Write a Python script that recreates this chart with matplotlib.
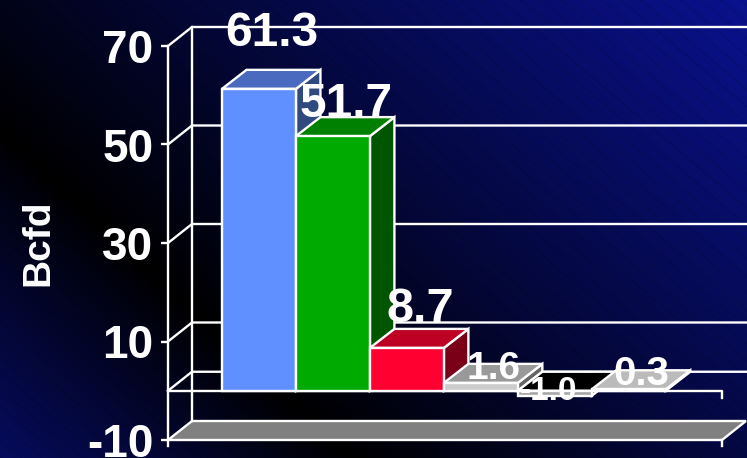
import numpy as np
import matplotlib
matplotlib.use("Agg")
from matplotlib import pyplot as plt

plt.rcParams['font.family'] = ['Liberation Sans', 'DejaVu Sans']
plt.rcParams['font.weight'] = 'bold'
plt.rcParams['axes.unicode_minus'] = False

values = [61.3, 51.7, 8.7, 1.6, -1.0, 0.3]
value_labels = ['61.3', '51.7', '8.7', '1.6', '-1.0', '0.3']
y_ticks = [-10, 10, 30, 50, 70]
y_label = 'Bcfd'

front_colors = ['#6090ff', '#00aa00', '#ff0030', '#cccccc', '#a8a8a8', '#cccccc']
top_colors = ['#4a6abf', '#008000', '#bf0025', '#999999', '#000000', '#bbbbbb']
side_colors = ['#304a80', '#005500', '#7a0018', '#666666', '#666666', '#808080']

# label placement, px from top of bar / pt size
label_dx = [13, 13, 13, 13, -6, 13]
label_dy = [43, 19, 26, 4, -9, 4]
label_size = [34.5, 34.5, 35, 28, 24, 29]

W, H = 747, 458
LW = 1.7
fig = plt.figure(figsize=(W / 100, H / 100), dpi=100)

# background: two sided diagonal gradient + faint hatching
bg = fig.add_axes([0, 0, 1, 1])
yy, xx = np.mgrid[0:H, 0:W]
d = (xx * 328 - yy * 350 + 350 * 130) / np.hypot(328, 350)
t = np.where(d > 0, d / 620, -d / 380)
t = np.clip(t, 0, 1) ** 0.95
stripes = 1 - 0.10 * (((xx - yy * 1.18) % 20) < 2.5)
img = np.zeros((H, W, 3))
img[..., 0] = 10 / 255 * t * stripes
img[..., 1] = 18 / 255 * t * stripes
img[..., 2] = 145 / 255 * t * stripes
bg.imshow(img, aspect='auto', interpolation='bilinear')
bg.axis('off')

ax = fig.add_axes([168 / W, (H - 440) / H, (722 - 168) / W, (440 - 46) / H])
ax.patch.set_alpha(0)
ax.set_xlim(-1.23, 6.26)
ax.set_ylim(-10, 70)
xl = ax.get_xlim()

# depth of the box, in data units
wall_dx = 24 / 74
wall_dy = 19 / 4.925
bar_dx = 24.5 / 74
bar_dy = 19 / 4.925

# floor
ax.fill([xl[0], xl[1], xl[1] + wall_dx, xl[0] + wall_dx], [-10, -10, -10 + wall_dy, -10 + wall_dy],
        facecolor='#808080', edgecolor='white', lw=LW, clip_on=False, zorder=1)

# walls / grid
for v in y_ticks[1:] + [0]:
    ax.plot([xl[0], xl[0] + wall_dx, xl[1] + wall_dx], [v, v + wall_dy, v + wall_dy],
            color='white', lw=LW, clip_on=False, zorder=2)
ax.plot([xl[0] + wall_dx] * 2, [-10 + wall_dy, 70 + wall_dy], color='white', lw=LW, clip_on=False, zorder=2)
ax.plot([xl[0], xl[1], xl[1]], [0, 0, -1.5], color='white', lw=LW, clip_on=False, zorder=3)
ax.plot([xl[1], xl[1]], [-10, -11.3], color='white', lw=LW, clip_on=False, zorder=3)
ax.plot([xl[0], xl[0]], [-11.3, 70], color='white', lw=LW, clip_on=False, zorder=3)

# bars
for i, v in enumerate(values):
    z = 10 + i
    base, top = min(v, 0), max(v, 0)
    l, r = i - 0.5, i + 0.5
    ax.fill([r, r + bar_dx, r + bar_dx, r], [base, base + bar_dy, top + bar_dy, top],
            facecolor=side_colors[i], edgecolor='white', lw=LW, clip_on=False, zorder=z)
    ax.fill([l, r, r + bar_dx, l + bar_dx], [top, top, top + bar_dy, top + bar_dy],
            facecolor=top_colors[i], edgecolor='white', lw=LW, clip_on=False, zorder=z)
    ax.bar(i, top - base, bottom=base, width=1, color=front_colors[i], edgecolor='white',
           lw=LW, clip_on=False, zorder=z)

for i, v in enumerate(values):
    ax.annotate(value_labels[i], (i, max(v, 0)), xytext=(label_dx[i] * 0.72, label_dy[i] * 0.72),
                textcoords='offset points', ha='center', va='baseline', color='white',
                fontsize=label_size[i], fontweight='bold', zorder=50, annotation_clip=False)

for s in ax.spines.values():
    s.set_visible(False)
ax.set_xticks([])
ax.set_yticks(y_ticks)
ax.tick_params(axis='y', colors='white', length=5, width=LW, pad=5.5, labelsize=33)
for t_ in ax.get_yticklabels():
    t_.set_fontweight('bold')
ax.set_ylabel(y_label, color='white', fontsize=28, fontweight='bold')
ax.yaxis.set_label_coords(-0.202, 0.5)

fig.savefig('out.png', dpi=100, facecolor='black')
